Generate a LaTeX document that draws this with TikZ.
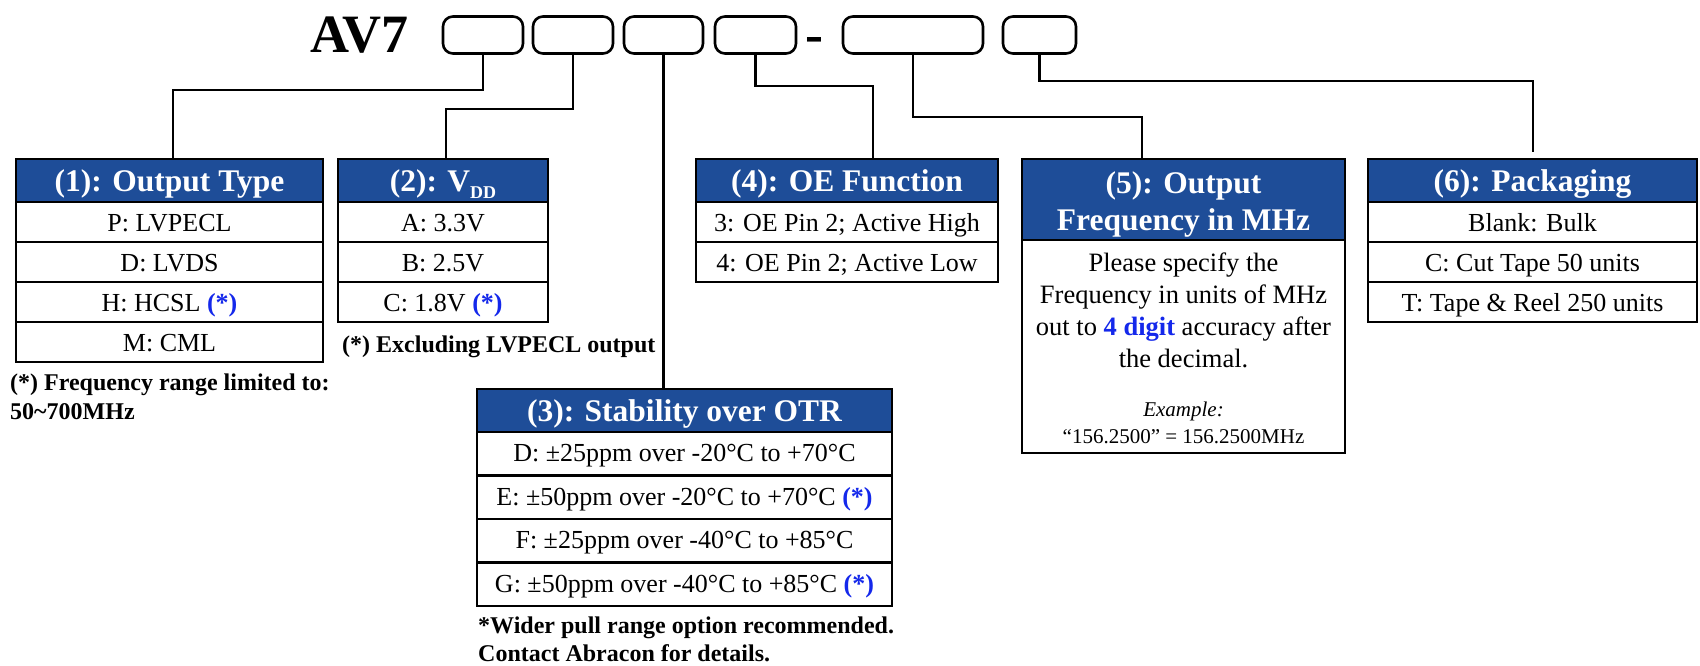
\documentclass[tikz,border=0pt]{standalone}
\usepackage{fontspec}
\setmainfont{Liberation Serif}
\definecolor{hdrblue}{RGB}{30,77,152}
\definecolor{starblue}{RGB}{20,40,235}
\newcommand{\bstar}{\textcolor{starblue}{\textbf{(*)}}}
\begin{document}
\begin{tikzpicture}[x=1pt,y=-1pt,
  frame/.style={draw=black, line width=2.6pt, inner sep=0pt, outer sep=0pt, anchor=north west},
  hdr/.style={frame, fill=hdrblue, text=white, font=\bfseries\fontsize{31.5}{37}\selectfont, minimum height=43pt, text height=21pt, text depth=0pt},
  cell/.style={frame, fill=white, font=\fontsize{26}{31}\selectfont, minimum height=40pt, text height=19pt, text depth=0pt},
  cellb/.style={cell, minimum height=43.5pt, text height=16pt},
  codebox/.style={draw=black, line width=2.6pt, rounded corners=10pt, minimum height=37pt, inner sep=0pt, outer sep=0pt},
  conn/.style={draw=black, line width=2.6pt},
  note/.style={font=\bfseries\fontsize{24}{29}\selectfont, anchor=base west, inner sep=0pt},
]
\useasboundingbox (0,0) rectangle (1700,665);

% title and code boxes
\node[anchor=base west, inner sep=0pt, font=\bfseries\fontsize{54}{60}\selectfont] (title) at (310,52) {AV7};
\node[codebox, minimum width=80pt] (c1) at (483,35) {};
\node[codebox, minimum width=80pt] (c2) at (573,35) {};
\node[codebox, minimum width=79pt] (c3) at (663.5,35) {};
\node[codebox, minimum width=81pt] (c4) at (755.5,35) {};
\node[anchor=base, inner sep=0pt, font=\bfseries\fontsize{54}{60}\selectfont] (dash) at (814.5,52) {-};
\node[codebox, minimum width=140pt] (c5) at (913,35) {};
\node[codebox, minimum width=73pt] (c6) at (1039.5,35) {};

% (1) Output type
\node[hdr, minimum width=307pt] (h1) at (16,159) {(1): Output Type};
\node[cell, minimum width=307pt] (r11) at (h1.south west) {P: LVPECL};
\node[cell, minimum width=307pt] (r12) at (r11.south west) {D: LVDS};
\node[cell, minimum width=307pt] (r13) at (r12.south west) {H: HCSL \bstar};
\node[cell, minimum width=307pt] (r14) at (r13.south west) {M: CML};
\node[note] (n1a) at (10,390) {(*) Frequency range limited to:};
\node[note] (n1b) at (10,419) {50\textasciitilde700MHz};

% (2) VDD
\node[hdr, minimum width=210pt] (h2) at (338,159) {(2): V\raisebox{-7pt}{\fontsize{18}{18}\selectfont DD}};
\node[cell, minimum width=210pt] (r21) at (h2.south west) {A: 3.3V};
\node[cell, minimum width=210pt] (r22) at (r21.south west) {B: 2.5V};
\node[cell, minimum width=210pt] (r23) at (r22.south west) {C: 1.8V \bstar};
\node[note] (n2) at (342,352) {(*) Excluding LVPECL output};

% (3) Stability
\node[hdr, minimum width=415pt] (h3) at (477,389) {(3): Stability over OTR};
\node[cellb, minimum width=415pt] (r31) at (h3.south west) {D: ±25ppm over -20°C to +70°C};
\node[cellb, minimum width=415pt] (r32) at (r31.south west) {E: ±50ppm over -20°C to +70°C \bstar};
\node[cellb, minimum width=415pt] (r33) at (r32.south west) {F: ±25ppm over -40°C to +85°C};
\node[cellb, minimum width=415pt] (r34) at (r33.south west) {G: ±50ppm over -40°C to +85°C \bstar};
\node[note] (n3a) at (478,633) {*Wider pull range option recommended.};
\node[note] (n3b) at (478,661) {Contact Abracon for details.};

% (4) OE function
\node[hdr, minimum width=302pt] (h4) at (696,159) {(4): OE Function};
\node[cell, minimum width=302pt] (r41) at (h4.south west) {3: OE Pin 2; Active High};
\node[cell, minimum width=302pt] (r42) at (r41.south west) {4: OE Pin 2; Active Low};

% (5) Output frequency
\node[frame, fill=hdrblue, minimum width=323pt, minimum height=81pt] (h5) at (1022,159) {};
\node[align=center, inner sep=0pt, text=white, font=\bfseries\fontsize{31.5}{37}\selectfont] (t5h) at (1183.5,204) {(5): Output\\Frequency in MHz};
\node[frame, fill=white, minimum width=323pt, minimum height=213pt] (b5) at (h5.south west) {};
\node[align=center, inner sep=0pt, font=\fontsize{26.5}{32}\selectfont] (t5) at (1183.5,310) {Please specify the\\Frequency in units of MHz\\out to \textcolor{starblue}{\textbf{4 digit}} accuracy after\\the decimal.};
\node[align=center, inner sep=0pt, font=\fontsize{21}{27}\selectfont] (e5) at (1183.5,423) {\textit{Example:}\\“156.2500” = 156.2500MHz};

% (6) Packaging
\node[hdr, minimum width=329pt] (h6) at (1368,159) {(6): Packaging};
\node[cell, minimum width=329pt] (r61) at (h6.south west) {Blank: Bulk};
\node[cell, minimum width=329pt] (r62) at (r61.south west) {C: Cut Tape 50 units};
\node[cell, minimum width=329pt] (r63) at (r62.south west) {T: Tape \& Reel 250 units};

% connectors
\draw[conn] (c1.south) |- ([xshift=157pt, yshift=69pt]h1.north west) -- ([xshift=157pt]h1.north west);
\draw[conn] (c2.south) |- ([xshift=108pt, yshift=50pt]h2.north west) -- ([xshift=108pt]h2.north west);
\draw[conn] (c3.south) -- (c3.south |- h3.north);
\draw[conn] (c4.south) |- ([xshift=177pt, yshift=73pt]h4.north west) -- ([xshift=177pt]h4.north west);
\draw[conn] (c5.south) |- ([xshift=120pt, yshift=42pt]h5.north west) -- ([xshift=120pt]h5.north west);
\coordinate (e6) at ([xshift=165pt, yshift=7pt]h6.north west);
\draw[conn] (c6.south) |- ([xshift=165pt, yshift=78pt]h6.north west) -- (e6);
\end{tikzpicture}
\end{document}
